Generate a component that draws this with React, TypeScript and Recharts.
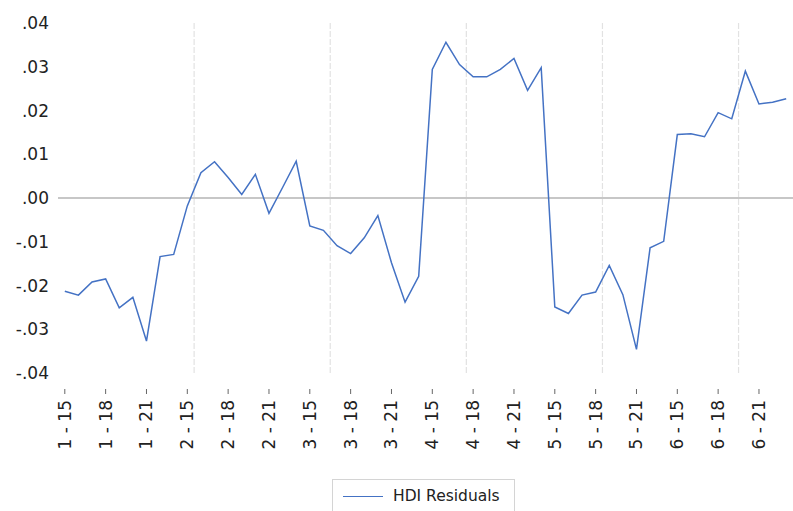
import { LineChart, Line, XAxis, YAxis, ReferenceLine, Legend } from 'recharts'

const groups = ['1', '2', '3', '4', '5', '6']
const years = ['15', '16', '17', '18', '19', '20', '21', '22', '23']

const residuals = [
  -0.0213, -0.0222, -0.0192, -0.0185, -0.0251, -0.0227, -0.0327, -0.0134, -0.0129,
  -0.0018, 0.0058, 0.0083, 0.0047, 0.0008, 0.0054, -0.0035, 0.0024, 0.0084,
  -0.0064, -0.0074, -0.0109, -0.0127, -0.0091, -0.004, -0.0148, -0.0238, -0.0179,
  0.0294, 0.0356, 0.0305, 0.0277, 0.0277, 0.0294, 0.0319, 0.0246, 0.0298,
  -0.0249, -0.0264, -0.0222, -0.0215, -0.0154, -0.0221, -0.0346, -0.0114, -0.0099,
  0.0145, 0.0147, 0.014, 0.0195, 0.0181, 0.029, 0.0215, 0.0219, 0.0227,
]

const obsLabels = groups.flatMap((g) => years.map((y) => `${g} - ${y}`))
const xTicks = [0, 3, 6, 9, 12, 15, 18, 21, 24, 27, 30, 33, 36, 39, 42, 45, 48, 51]
const yTicks = [-0.04, -0.03, -0.02, -0.01, 0, 0.01, 0.02, 0.03, 0.04]
const gridBreaks = [9.5, 19.5, 29.5, 39.5, 49.5]

const data = residuals.map((v, i) => ({ idx: i, obs: obsLabels[i], resid: v }))

const FONT = 'DejaVu Sans'

function formatY(v: number) {
  const s = Math.abs(v).toFixed(2).replace(/^0/, '')
  return v < -1e-9 ? `-${s}` : s
}

function ObsTick({ x, y, payload }: any) {
  const label = obsLabels[payload.value] ?? ''
  return (
    <g>
      <line x1={x} x2={x} y1={y + 16} y2={y + 21} stroke="#666" strokeWidth={1} />
      <text
        x={0}
        y={0}
        dy="0.35em"
        transform={`translate(${x},${y + 27}) rotate(-90)`}
        textAnchor="end"
        fill="#222"
        fontSize={17}
        fontFamily={FONT}
      >
        {label}
      </text>
    </g>
  )
}

function ResidLegend() {
  return (
    <div
      style={{
        boxSizing: 'border-box',
        height: 34,
        width: 183,
        border: '1px solid #d4d4d4',
        display: 'flex',
        alignItems: 'center',
        fontFamily: FONT,
        fontSize: 15.5,
        color: '#222',
      }}
    >
      <span style={{ display: 'inline-block', width: 40, height: 0, borderTop: '1.5px solid #4472c4', marginLeft: 10, marginRight: 10 }} />
      <span>HDI Residuals</span>
    </div>
  )
}

export default function App() {
  return (
    <div style={{ position: 'absolute', left: 0, top: 0, background: '#fff' }}>
      <LineChart width={793} height={511} data={data} margin={{ top: 23, right: 0, left: 0, bottom: 0 }}>
        <XAxis
          dataKey="idx"
          type="number"
          domain={[-0.5, 53.5]}
          ticks={xTicks}
          interval={0}
          height={104}
          axisLine={false}
          tickLine={false}
          tickSize={0}
          tickMargin={0}
          tick={<ObsTick />}
        />
        <YAxis
          domain={[-0.04, 0.04]}
          ticks={yTicks}
          width={58}
          axisLine={false}
          tickLine={false}
          tickSize={0}
          tickMargin={9}
          tickFormatter={formatY}
          tick={{ fill: '#222', fontSize: 17, fontFamily: FONT }}
        />
        {gridBreaks.map((b) => (
          <ReferenceLine key={b} x={b} stroke="#e2e2e2" strokeWidth={1.2} strokeDasharray="6 2" />
        ))}
        <ReferenceLine y={0} stroke="#b4b4b4" strokeWidth={1.4} />
        <Line
          type="linear"
          dataKey="resid"
          name="HDI Residuals"
          stroke="#4472c4"
          strokeWidth={1.5}
          dot={false}
          isAnimationActive={false}
        />
        <Legend
          verticalAlign="bottom"
          content={<ResidLegend />}
          wrapperStyle={{ left: 332, bottom: -2, width: 183, height: 34 }}
        />
      </LineChart>
    </div>
  )
}
